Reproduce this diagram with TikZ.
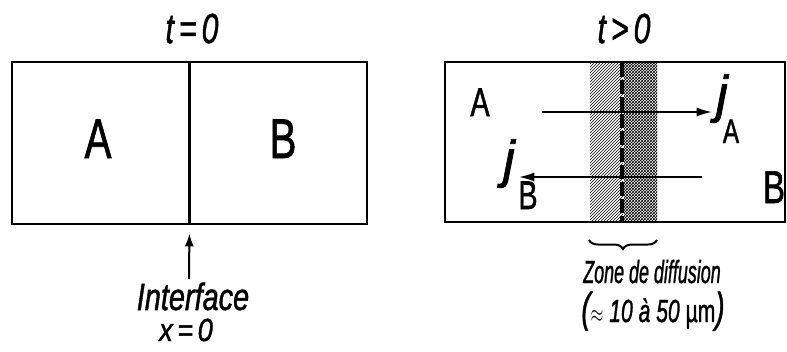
\documentclass[tikz,border=0pt]{standalone}
\usepackage{fontspec}
\setmainfont{Liberation Sans}[FakeBold=1.4]
\usepackage{graphicx}
\usetikzlibrary{patterns,arrows.meta,decorations.pathreplacing}
\newcommand{\fsz}[1]{\fontsize{#1}{#1}\selectfont}
\newcommand{\cond}[1]{\scalebox{0.72}[1]{#1}}
\begin{document}
\begin{tikzpicture}[x=1pt,y=-1pt,
  boxshape/.style={draw,line width=2.8pt,minimum width=#1,inner sep=0pt},
  thin line/.style={line width=2.2pt},
  arr/.style={line width=2.4pt,-{Latex[length=16pt,width=9pt]}},
  big/.style={font=\fsz{56}},
  title/.style={font=\fsz{42}\itshape},
  note/.style={font=\fsz{32}\itshape,align=center}]
\useasboundingbox (0,0) rectangle (787,351);
\fill[white] (0,0) rectangle (787,351);

% ---- left panel ----
\node[title,anchor=base] (tL) at (192,43) {\cond{t\,=\,0}};
\node[boxshape=355pt,minimum height=162pt] (boxL) at (189.5,143) {};
\draw[thin line] (boxL.north) -- (boxL.south);
\node[big,anchor=base] (AL) at (98,158) {\cond{A}};
\node[big,anchor=base] (BL) at (283,158) {\cond{B}};
\coordinate (ifc) at (189,279);
\draw[line width=2pt,-{Latex[length=13pt,width=9pt]},shorten >=8pt] (ifc) -- (boxL.south);
\node[font=\fsz{38}\itshape,anchor=base,inner sep=0pt] (interf) at (193,310) {\scalebox{0.76}[1]{Interface}};
\node[font=\fsz{32}\itshape,anchor=base,inner sep=0pt] (xeq) at (186,341) {\scalebox{0.85}[1]{x\,=\,0}};

% ---- right panel ----
\node[title,anchor=base] (tR) at (624,43) {\cond{t\,>\,0}};
% diffusion zone
\fill[pattern=north east lines,pattern color=black] (590,63) rectangle (622,222);
\fill[pattern=crosshatch dots,pattern color=black] (622,63) rectangle (657,222);
\fill[pattern=crosshatch,pattern color=black] (624,63) rectangle (657,222);
\node[boxshape=340pt,minimum height=160pt] (boxR) at (615,142) {};
\draw[line width=3.2pt,dash pattern=on 14pt off 3pt] (622,63) -- (622,222);
\node[font=\fsz{40},anchor=base] (AR) at (480,116) {\cond{A}};
\node[font=\fsz{46},anchor=base] (BR) at (774,203) {\cond{B}};
% fluxes
\node[font=\fsz{52}\itshape,anchor=base] (jA) at (722,112) {j};
\node[font=\fsz{34},anchor=base] (jAs) at (731,143) {\cond{A}};
\node[font=\fsz{52}\itshape,anchor=base] (jB) at (509,177) {j};
\node[font=\fsz{40},anchor=base] (jBs) at (528,209) {\cond{B}};
\coordinate (a1) at (542,112);
\coordinate (b1) at (702,177);
\draw[arr] (a1) -- (jA.west |- a1);
\draw[arr] (b1) -- (jB.east |- b1);
% brace
\coordinate (br1) at (589,240);
\coordinate (br2) at (657,240);
\draw[line width=2pt,decorate,decoration={brace,mirror,amplitude=9pt}] (br1) -- (br2);
\node[note,anchor=base] (zone) at (652,283) {\scalebox{0.56}[1]{Zone de diffusion}};
\node[note,anchor=base] (range) at (653,322) {\scalebox{0.66}[1]{{\fsz{42}(}$\approx$ 10 \`a 50 \textup{µm}{\fsz{42})}}};
\end{tikzpicture}
\end{document}
